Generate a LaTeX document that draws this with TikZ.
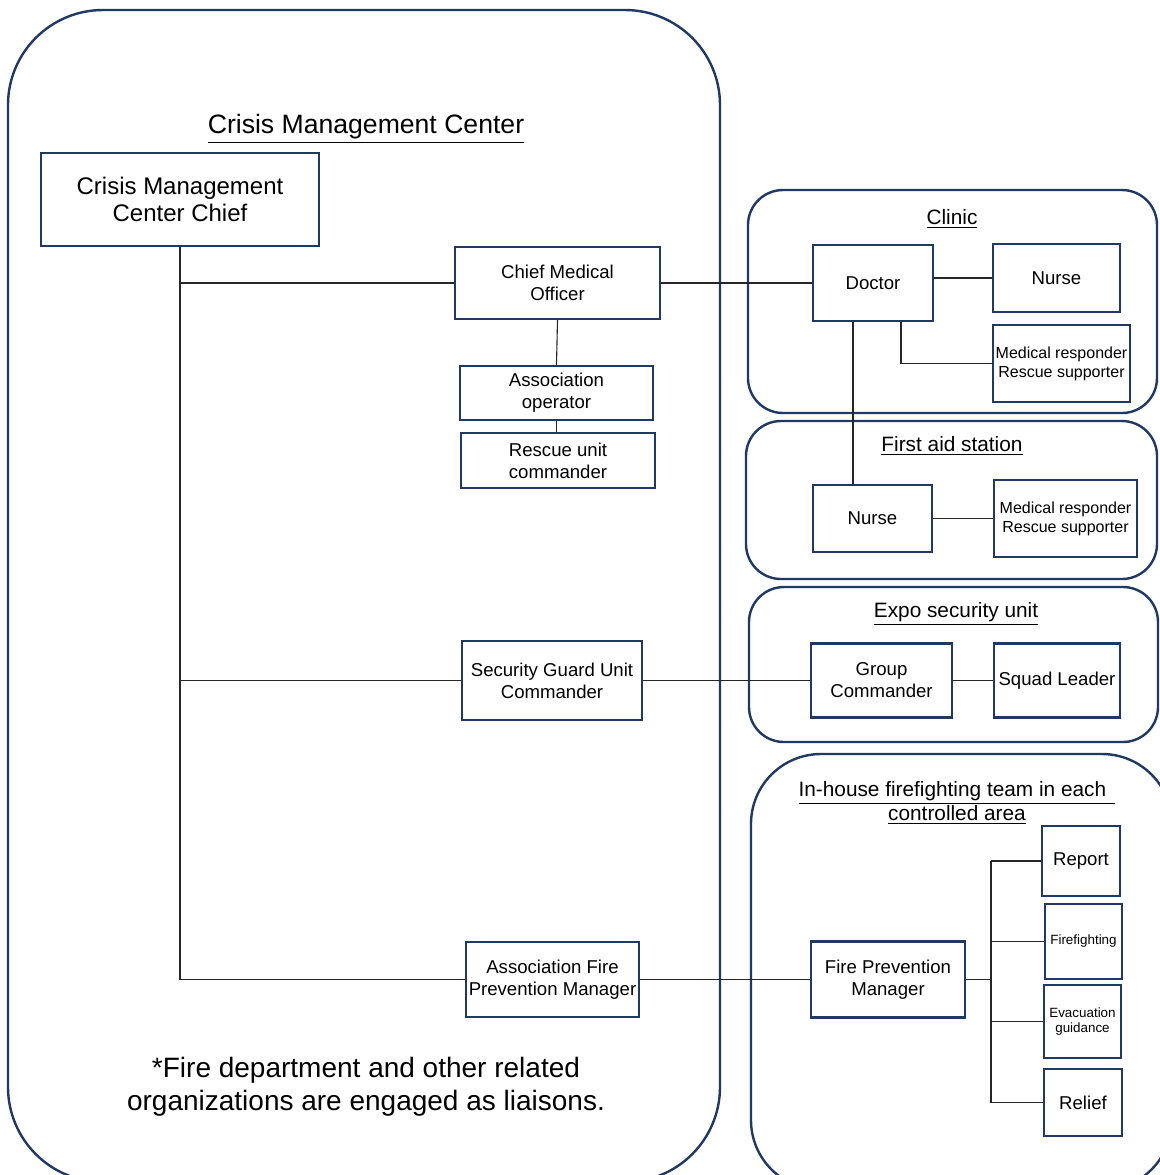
\documentclass[tikz,border=0pt]{standalone}
\usepackage{fontspec}
\setmainfont{Liberation Sans}
\usetikzlibrary{positioning}

\begin{document}
\begin{tikzpicture}
    [x=0.5pt, y=-0.5pt,
    % Styles
    unit/.style={draw=framecolor, line width=1.2pt, fill=white, inner sep=1pt,
      align=center, font={\fontsize{9.3}{11}\selectfont}},
    small unit/.style={unit, font={\fontsize{8}{9.5}\selectfont}},
    tiny unit/.style={unit, font={\fontsize{6.7}{7.5}\selectfont}},
    container/.style={draw=framecolor, line width=1.2pt},
    heading/.style={align=center, font={\fontsize{10.4}{12}\selectfont}},
    link/.style={draw=linecolor, line width=0.55pt}]

    % Colors
    \definecolor{framecolor}{HTML}{203864}
    \colorlet{linecolor}{black!85}

    % Page
    \useasboundingbox (0,0) rectangle (1160,1175);
    \clip (0,0) rectangle (1160,1175);

    % Frames
    \draw[container, rounded corners=47.5pt] (8,10) rectangle (720,1182);
    \draw[container, rounded corners=17.5pt] (748,190) rectangle (1157,413);
    \draw[container, rounded corners=17.5pt] (746,421) rectangle (1157,579);
    \draw[container, rounded corners=17.5pt] (749,587) rectangle (1158,742);
    \draw[container, rounded corners=35pt] (751,754) rectangle (1172,1190);

    % Crisis Management Center
    \node[heading, font={\fontsize{13.3}{15}\selectfont}] (cmctitle) at (366,129) {\underline{Crisis Management Center}};
    \node[unit, font={\fontsize{12}{13.5}\selectfont}, minimum width=139pt, minimum height=46.5pt] (chief) at (180,199.5) {Crisis Management\\Center Chief};
    \node[unit, minimum width=102.5pt, minimum height=36pt] (cmo) at (557.5,283) {Chief Medical\\Officer};
    \node[unit, minimum width=96.5pt, minimum height=27pt] (assoc) at (556.5,393) {Association\\operator};
    \node[unit, minimum width=97pt, minimum height=27.5pt] (rescue) at (558,460.5) {Rescue unit\\commander};
    \node[unit, minimum width=90pt, minimum height=39.5pt] (sgu) at (552,680.5) {Security Guard Unit\\Commander};
    \node[unit, minimum width=86.5pt, minimum height=37.5pt] (afpm) at (552.5,979.5) {Association Fire\\Prevention Manager};
    \node[align=center, font={\fontsize{14}{16.5}\selectfont}] (note) at (366,1087) {*Fire department and other related\\organizations are engaged as liaisons.};

    % Clinic
    \node[heading] (clinictitle) at (952,219) {\underline{Clinic}};
    \node[unit, minimum width=60pt, minimum height=38pt] (doctor) at (873,283) {Doctor};
    \node[unit, minimum width=63.5pt, minimum height=34pt] (nurse) at (1056.5,278) {Nurse};
    \node[small unit, minimum width=68.5pt, minimum height=38.5pt] (mrclinic) at (1061.5,363.5) {Medical responder\\Rescue supporter};

    % First aid station
    \node[heading] (aidtitle) at (952,446) {\underline{First aid station}};
    \node[unit, minimum width=59.5pt, minimum height=33.5pt] (aidnurse) at (872.5,518.5) {Nurse};
    \node[small unit, minimum width=71.5pt, minimum height=38.5pt] (mraid) at (1065.5,518.5) {Medical responder\\Rescue supporter};

    % Expo security unit
    \node[heading] (expotitle) at (956,614) {\underline{Expo security unit}};
    \node[unit, minimum width=70.5pt, minimum height=37pt] (group) at (881.5,680.5) {Group\\Commander};
    \node[unit, minimum width=63pt, minimum height=37pt] (squad) at (1057,680.5) {Squad Leader};

    % In-house firefighting team
    \node[heading] (firetitle) at (957,803) {\underline{In-house firefighting team in each\ \,}\\\underline{controlled area}};
    \node[unit, minimum width=77pt, minimum height=38pt] (fpm) at (888,979.5) {Fire Prevention\\Manager};
    \node[unit, minimum width=39pt, minimum height=35pt] (report) at (1081,861) {Report};
    \node[tiny unit, minimum width=38.5pt, minimum height=37.5pt] (firefight) at (1083.5,941.5) {Firefighting};
    \node[tiny unit, minimum width=38.5pt, minimum height=36.5pt] (evac) at (1082.5,1021.5) {Evacuation\\guidance};
    \node[unit, minimum width=39pt, minimum height=33.5pt] (relief) at (1083,1102.5) {Relief};
    \coordinate (bus) at (991,979.5);

    % Connectors
    \draw[link] (chief.south) |- (afpm.west);
    \draw[link] (chief.south |- cmo.west) -- (cmo.west);
    \draw[link] (chief.south |- sgu.west) -- (sgu.west);
    \draw[link] (cmo.south) -- (assoc.north);
    \draw[link] (assoc.south) -- (assoc.south |- rescue.north);
    \draw[link] (cmo.east) -- (doctor.west);
    \draw[link] (nurse.west -| doctor.east) -- (nurse.west);
    \draw[link] ([xshift=14pt]doctor.south) |- (mrclinic.west);
    \draw[link] ([xshift=-10pt]doctor.south) -- ([xshift=-10pt]doctor.south |- aidnurse.north);
    \draw[link] (aidnurse.east) -- (mraid.west);
    \draw[link] (sgu.east) -- (group.west);
    \draw[link] (group.east) -- (squad.west);
    \draw[link] (afpm.east) -- (fpm.west);
    \draw[link] (fpm.east) -- (bus);
    \draw[link] (bus |- report.west) -- (bus |- relief.west);
    \foreach \task in {report, firefight, evac, relief}
    \draw[link] (bus |- \task.west) -- (\task.west);
\end{tikzpicture}
\end{document}
